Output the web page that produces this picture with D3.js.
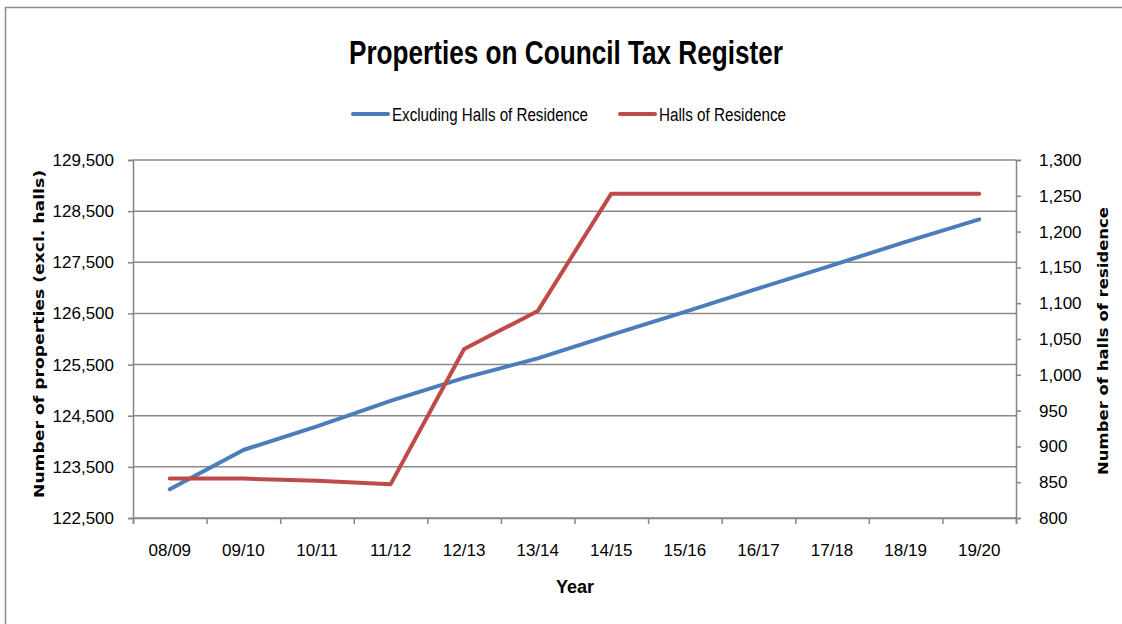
<!DOCTYPE html>
<html>
<head>
<meta charset="utf-8">
<script src="https://cdn.jsdelivr.net/npm/d3@7"></script>
<style>
  html, body { margin: 0; padding: 0; background: #fff; }
  svg { display: block; }
  .axis text { fill: #000; font-family: "Liberation Sans", Arial, sans-serif; font-size: 17px; }
  .axis path, .axis line { stroke: #868686; stroke-width: 1.5; }
</style>
</head>
<body>
<div id="app"></div>
<script>
const years = ['08/09', '09/10', '10/11', '11/12', '12/13', '13/14', '14/15', '15/16', '16/17', '17/18', '18/19', '19/20'];
const excludingHalls = [123060, 123830, 124290, 124790, 125240, 125620, 126080, 126530, 126990, 127440, 127900, 128340];
const hallsOfResidence = [855, 855, 852, 847, 1036, 1089, 1253, 1253, 1253, 1253, 1253, 1253];
const leftTicks = [122500, 123500, 124500, 125500, 126500, 127500, 128500, 129500];
const rightTicks = [800, 850, 900, 950, 1000, 1050, 1100, 1150, 1200, 1250, 1300];

const width = 1122;
const height = 624;
const plot = { left: 133, right: 1016, top: 160, bottom: 518 };
const blue = '#4a7ebb';
const red = '#be4b48';
const narrow = 'Liberation Sans Narrow, Liberation Sans, sans-serif';

const svg = d3.select('#app').append('svg')
  .attr('width', width)
  .attr('height', height);

// chart frame
svg.append('rect')
  .attr('x', 5.5).attr('y', 7.5)
  .attr('width', 1130).attr('height', 640)
  .attr('fill', 'none')
  .attr('stroke', '#8c8c8c')
  .attr('stroke-width', 1.5);

const x = d3.scaleBand().domain(years).range([plot.left, plot.right]);
const xEdge = d3.scaleLinear().domain([0, years.length]).range([plot.left, plot.right]);
const yLeft = d3.scaleLinear().domain([122500, 129500]).range([plot.bottom, plot.top]);
const yRight = d3.scaleLinear().domain([800, 1300]).range([plot.bottom, plot.top]);

// gridlines
svg.append('g')
  .selectAll('line')
  .data(leftTicks)
  .enter().append('line')
  .attr('x1', plot.left).attr('x2', plot.right)
  .attr('y1', d => yLeft(d)).attr('y2', d => yLeft(d))
  .attr('stroke', '#8a8a8a')
  .attr('stroke-width', 1.5);

// left axis
svg.append('g')
  .attr('class', 'axis')
  .attr('transform', `translate(${plot.left},0)`)
  .call(d3.axisLeft(yLeft).tickValues(leftTicks).tickSize(5).tickPadding(14).tickFormat(d3.format(',')));

// right axis
svg.append('g')
  .attr('class', 'axis')
  .attr('transform', `translate(${plot.right},0)`)
  .call(d3.axisRight(yRight).tickValues(rightTicks).tickSize(5).tickPadding(18).tickFormat(d3.format(',')));

// bottom axis: tick marks on category edges
svg.append('g')
  .attr('class', 'axis')
  .attr('transform', `translate(0,${plot.bottom})`)
  .call(d3.axisBottom(xEdge).tickValues(d3.range(0, years.length + 1)).tickSize(6).tickFormat(''));

// bottom axis labels at category centres
svg.append('g')
  .attr('class', 'axis')
  .attr('transform', `translate(0,${plot.bottom})`)
  .call(d3.axisBottom(x).tickSize(0).tickPadding(26))
  .call(g => g.select('.domain').remove());

// the d3 axis sets its own font; let the stylesheet decide
svg.selectAll('.axis').attr('font-family', null).attr('font-size', null);

const xPos = (_, i) => x(years[i]) + x.bandwidth() / 2;

svg.append('path')
  .attr('d', d3.line().x(xPos).y(d => yLeft(d))(excludingHalls))
  .attr('fill', 'none')
  .attr('stroke', blue)
  .attr('stroke-width', 4)
  .attr('stroke-linecap', 'round')
  .attr('stroke-linejoin', 'round');

svg.append('path')
  .attr('d', d3.line().x(xPos).y(d => yRight(d))(hallsOfResidence))
  .attr('fill', 'none')
  .attr('stroke', red)
  .attr('stroke-width', 4)
  .attr('stroke-linecap', 'round')
  .attr('stroke-linejoin', 'round');

// title
svg.append('text')
  .attr('x', 566).attr('y', 64)
  .attr('text-anchor', 'middle')
  .attr('font-family', narrow)
  .attr('font-weight', 'bold')
  .attr('font-size', 33)
  .attr('textLength', 434)
  .attr('lengthAdjust', 'spacingAndGlyphs')
  .text('Properties on Council Tax Register');

// legend
const legend = [
  { name: 'Excluding Halls of Residence', color: blue, x: 353, len: 196 },
  { name: 'Halls of Residence', color: red, x: 620, len: 127 }
];
const lg = svg.append('g').selectAll('g').data(legend).enter().append('g')
  .attr('transform', d => `translate(${d.x},114)`);
lg.append('line')
  .attr('x1', 0).attr('x2', 35)
  .attr('stroke', d => d.color)
  .attr('stroke-width', 4)
  .attr('stroke-linecap', 'round');
lg.append('text')
  .attr('x', 39).attr('y', 6.5)
  .attr('font-family', narrow)
  .attr('font-size', 18)
  .attr('textLength', d => d.len)
  .attr('lengthAdjust', 'spacingAndGlyphs')
  .text(d => d.name);

// axis titles
svg.append('text')
  .attr('transform', 'translate(44,334) rotate(-90)')
  .attr('text-anchor', 'middle')
  .attr('font-family', 'DejaVu Sans, Verdana, sans-serif')
  .attr('font-weight', 'bold')
  .attr('font-size', 14)
  .attr('textLength', 328)
  .attr('lengthAdjust', 'spacingAndGlyphs')
  .text('Number of properties (excl. halls)');

svg.append('text')
  .attr('transform', 'translate(1108,341) rotate(-90)')
  .attr('text-anchor', 'middle')
  .attr('font-family', 'DejaVu Sans, Verdana, sans-serif')
  .attr('font-weight', 'bold')
  .attr('font-size', 14)
  .attr('textLength', 268)
  .attr('lengthAdjust', 'spacingAndGlyphs')
  .text('Number of halls of residence');

svg.append('text')
  .attr('x', 575).attr('y', 593)
  .attr('text-anchor', 'middle')
  .attr('font-family', narrow)
  .attr('font-weight', 'bold')
  .attr('font-size', 18)
  .text('Year');
</script>
</body>
</html>
